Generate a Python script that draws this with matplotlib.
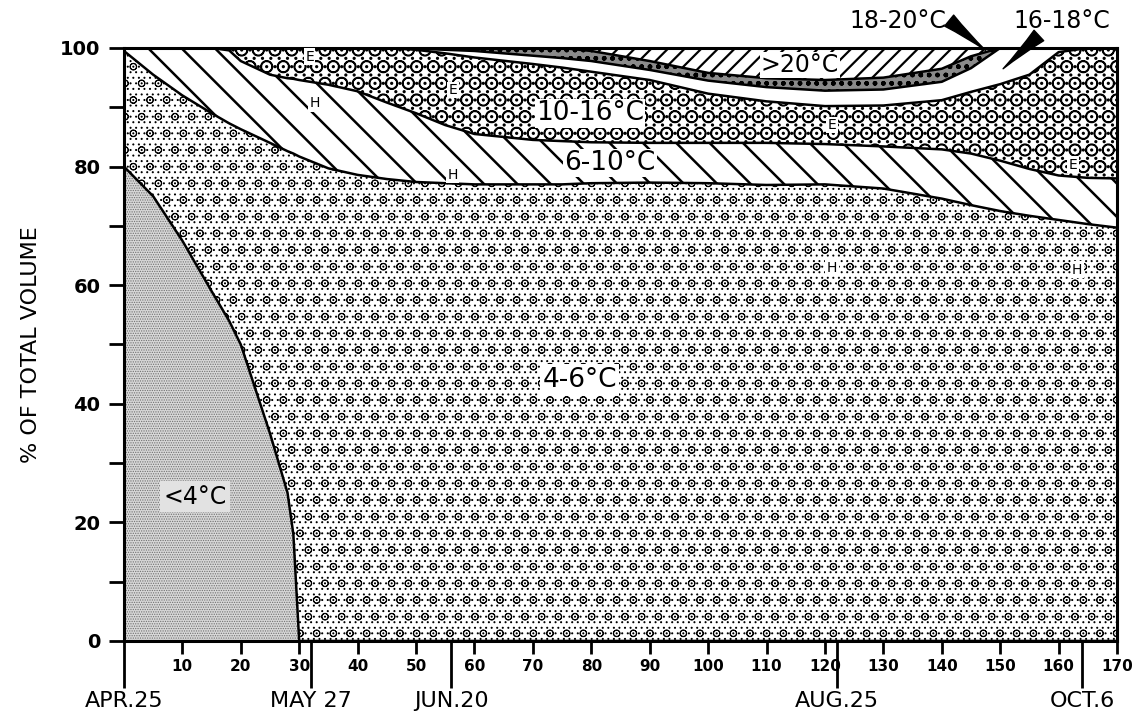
import matplotlib
matplotlib.use("Agg")
import matplotlib.pyplot as plt
import numpy as np

# ---- data (day index from APR.25, cumulative % of total volume at top of each class) ----
days = [0, 5, 10, 15, 18, 20, 25, 28, 29, 30, 35, 40, 45, 50, 55, 60, 70, 75, 80,
        90, 100, 110, 120, 130, 140, 145, 150, 155, 160, 165, 170]

top_lt4 = [80, 75, 67.5, 59, 54, 50, 35, 25, 18, 0, 0, 0, 0, 0, 0, 0, 0, 0, 0,
           0, 0, 0, 0, 0, 0, 0, 0, 0, 0, 0, 0]
top_4_6 = [99.5, 95.5, 92, 89, 87.3, 86.3, 84, 82.6, 82.2, 81.7, 79.7, 78.6, 77.9, 77.4, 77.2, 77, 77, 77, 77.2,
           77.3, 77.2, 76.9, 77, 76.3, 74.6, 73.5, 72.5, 71.7, 71, 70.3, 69.7]
top_6_10 = [100, 100, 100, 100, 99.6, 97.8, 95.5, 94.9, 94.8, 94.6, 93.8, 92.7, 90.8, 89, 87, 85.5, 84.5, 84.3, 84.1,
            84, 84, 84, 83.8, 83.4, 82.9, 82.2, 81, 79.6, 78.5, 78.1, 78]
top_10_16 = [100, 100, 100, 100, 100, 100, 100, 100, 100, 100, 100, 100, 100, 99.7, 99.1, 98.4, 97.3, 96.7, 96,
             94.6, 92.3, 91, 90.2, 90.3, 91.2, 92.6, 93.9, 95.5, 99.3, 100, 100]
top_16_18 = [100, 100, 100, 100, 100, 100, 100, 100, 100, 100, 100, 100, 100, 99.9, 99.7, 99.5, 98.7, 98.3, 97.8,
             96.3, 94.5, 93.4, 92.8, 93, 94.3, 96.6, 100, 100, 100, 100, 100]
top_18_20 = [100, 100, 100, 100, 100, 100, 100, 100, 100, 100, 100, 100, 100, 100, 100, 100, 100, 100, 99.5,
             97.8, 95.8, 94.9, 94.6, 95, 96.5, 98.6, 100, 100, 100, 100, 100]
top_gt20 = [100] * len(days)
bottom = [0] * len(days)

day_ticks = [10, 20, 30, 40, 50, 60, 70, 80, 90, 100, 110, 120, 130, 140, 150, 160, 170]
date_pos = [0, 32, 56, 122, 164]
date_labels = ["APR.25", "MAY 27", "JUN.20", "AUG.25", "OCT.6"]
y_ticks = [0, 20, 40, 60, 80, 100]

plt.rcParams['font.family'] = ['DejaVu Sans']

fig = plt.figure(figsize=(11.33, 7.11), dpi=100)
ax = fig.add_axes([0.1094, 0.0985, 0.8765, 0.834])

x = np.array(days)


def band(lo, hi, hatch, fc, hc, hlw):
    with plt.rc_context({'hatch.linewidth': hlw}):
        coll = ax.fill_between(x, lo, hi, facecolor=fc, edgecolor=hc, hatch=hatch,
                               linewidth=0)
    if hasattr(coll, 'set_hatch_linewidth'):
        coll.set_hatch_linewidth(hlw)
    return coll


band(bottom, top_lt4, '.......', '#d8d8d8', '#707070', 0.6)
band(top_lt4, top_4_6, '...o', 'white', 'black', 0.7)
band(top_4_6, top_6_10, '\\', 'white', 'black', 1.8)
band(top_6_10, top_10_16, 'O..', 'white', 'black', 1.1)
band(top_10_16, top_16_18, '', 'white', 'black', 1.0)
band(top_16_18, top_18_20, 'oo..', '#8a8a8a', 'black', 1.0)
band(top_18_20, top_gt20, '//', 'white', 'black', 1.6)

for b in [top_lt4, top_4_6, top_6_10, top_10_16, top_16_18, top_18_20]:
    ax.plot(x, b, color='black', lw=1.8, solid_joinstyle='round')

ax.set_xlim(0, 170)
ax.set_ylim(0, 100)
for s in ax.spines.values():
    s.set_linewidth(2.2)
    s.set_color('black')

ax.set_yticks(y_ticks)
ax.set_yticks(list(range(10, 100, 20)), minor=True)
ax.tick_params(axis='y', which='both', direction='out', length=11, width=2,
               labelsize=14, pad=6)
for t in ax.get_yticklabels():
    t.set_fontweight('bold')

ax.set_xticks(day_ticks)
ax.set_xticklabels([str(d) for d in day_ticks], fontweight='bold')
ax.set_xticks(date_pos, minor=True)
ax.set_xticklabels(date_labels, minor=True)
ax.tick_params(axis='x', which='major', direction='out', length=9, width=2,
               labelsize=11, pad=4)
ax.tick_params(axis='x', which='minor', direction='out', length=34, width=2,
               labelsize=16, pad=2)

ax.set_ylabel("% OF TOTAL VOLUME", fontsize=16, labelpad=14)

# region labels
lab = dict(ha='center', va='center', color='black')
ax.text(12.2, 24.3, "<4°C", fontsize=17,
        bbox=dict(boxstyle='square,pad=0.15', fc='#e2e2e2', ec='none'), **lab)
ax.text(78, 44, "4-6°C", fontsize=19,
        bbox=dict(boxstyle='square,pad=0.1', fc='white', ec='none'), **lab)
ax.text(83.2, 80.6, "6-10°C", fontsize=19,
        bbox=dict(boxstyle='square,pad=0.05', fc='white', ec='none'), **lab)
ax.text(79.8, 89.0, "10-16°C", fontsize=19,
        bbox=dict(boxstyle='square,pad=0.05', fc='white', ec='none'), **lab)
ax.text(115.7, 97.1, ">20°C", fontsize=17,
        bbox=dict(boxstyle='square,pad=0.05', fc='white', ec='none'), **lab)

small_box = dict(boxstyle='square,pad=0.1', fc='white', ec='none')
for hx, hy in [(32.7, 90.7), (56.3, 78.6), (121.2, 62.9), (163.2, 62.6)]:
    ax.text(hx, hy, "H", fontsize=10, bbox=small_box, **lab)
for ex, ey in [(31.8, 98.5), (56.3, 92.9), (121.2, 87.0), (162.5, 80.3)]:
    ax.text(ex, ey, "E", fontsize=10, bbox=small_box, **lab)

ax.annotate("18-20°C", xy=(147.5, 99.6), xytext=(132.5, 104.6),
            ha='center', va='center', fontsize=17, annotation_clip=False,
            arrowprops=dict(arrowstyle='wedge,tail_width=0.6,shrink_factor=0.4',
                            fc='black', ec='black', shrinkA=0, shrinkB=0,
                            relpos=(1.0, 0.6)))
ax.annotate("16-18°C", xy=(150.5, 96.5), xytext=(160.5, 104.6),
            ha='center', va='center', fontsize=17, annotation_clip=False,
            arrowprops=dict(arrowstyle='wedge,tail_width=0.6,shrink_factor=0.4',
                            fc='black', ec='black', shrinkA=0, shrinkB=0,
                            relpos=(0.35, 0.2)))

fig.savefig("out.png", dpi=100)
